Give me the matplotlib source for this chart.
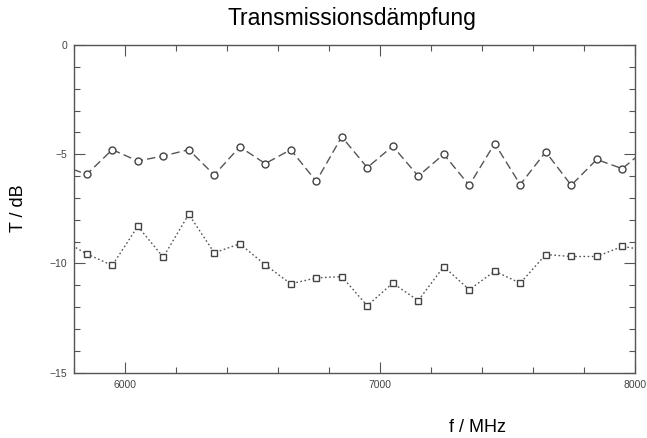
import numpy as np
import matplotlib
matplotlib.use("Agg")
import matplotlib.pyplot as plt
from matplotlib.ticker import MultipleLocator

# frequency grid (MHz), including the clipped points just outside the axes
freq = [5750, 5850, 5950, 6050, 6150, 6250, 6350, 6450, 6550, 6650, 6750, 6850,
        6950, 7050, 7150, 7250, 7350, 7450, 7550, 7650, 7750, 7850, 7950, 8050]

# circle series (dashed)
t_circle = [-5.5, -5.92, -4.79, -5.31, -5.08, -4.79, -5.95, -4.66, -5.43, -4.79, -6.24, -4.2,
            -5.61, -4.63, -6.0, -5.0, -6.42, -4.51, -6.39, -4.89, -6.42, -5.24, -5.66, -4.7]

# square series (dotted)
t_square = [-8.9, -9.56, -10.09, -8.30, -9.71, -7.75, -9.51, -9.10, -10.06, -10.93, -10.66, -10.60,
            -11.93, -10.9, -11.7, -10.14, -11.2, -10.35, -10.9, -9.59, -9.68, -9.68, -9.22, -9.4]

plt.rcParams["font.family"] = ["Liberation Sans", "DejaVu Sans"]

fig = plt.figure(figsize=(6.47, 4.38), dpi=100)
ax = fig.add_axes([0.1144, 0.149, 0.867, 0.7483])

ax.plot(freq, t_circle, color="#555555", lw=1.0, ls=(0, (6, 3)),
        marker="o", ms=5, mfc="white", mec="#444444", mew=1.0)
ax.plot(freq, t_square, color="#555555", lw=1.0, ls=(0, (1.2, 1.8)),
        marker="s", ms=5, mfc="white", mec="#444444", mew=1.0)

ax.set_xlim(5800, 8000)
ax.set_ylim(-15, 0)
ax.xaxis.set_major_locator(MultipleLocator(1000))
ax.xaxis.set_minor_locator(MultipleLocator(200))
ax.yaxis.set_major_locator(MultipleLocator(5))
ax.yaxis.set_minor_locator(MultipleLocator(1))
ax.tick_params(which="both", direction="in", top=True, right=True,
               labelsize=7.5, colors="#555555", labelcolor="#444444", width=0.8)
ax.tick_params(which="major", length=8, pad=5)
ax.tick_params(which="minor", length=4)
for s in ax.spines.values():
    s.set_color("#555555")
    s.set_linewidth(1.0)

fig.text(0.544, 0.957, "Transmissionsdämpfung", ha="center", va="center", fontsize=16.5)
fig.text(0.028, 0.525, "T / dB", ha="center", va="center", rotation=90, fontsize=13)
fig.text(0.738, 0.025, "f / MHz", ha="center", va="center", fontsize=13)

fig.savefig("out.png", dpi=100)
